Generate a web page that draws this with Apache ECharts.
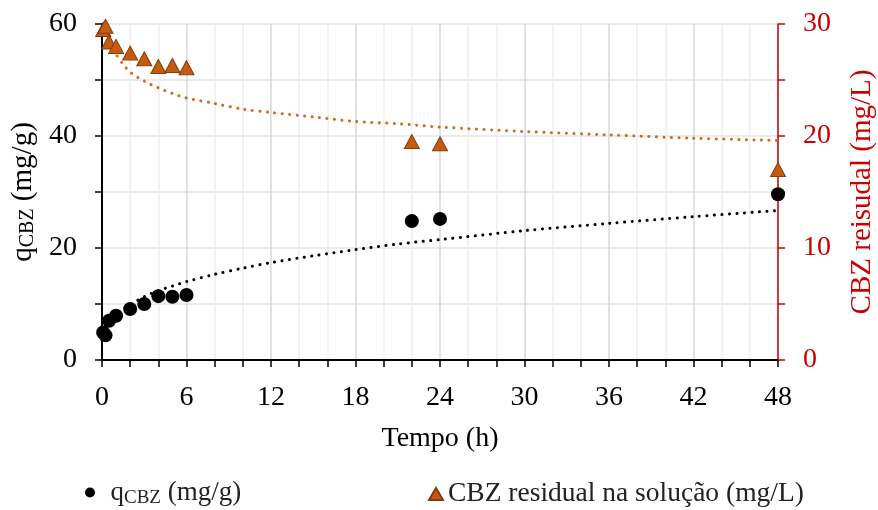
<!DOCTYPE html>
<html>
<head>
<meta charset="utf-8">
<script src="https://cdn.jsdelivr.net/npm/echarts@6/dist/echarts.min.js"></script>
<style>
  html, body { margin: 0; padding: 0; background: #fff; }
  #chart { width: 878px; height: 510px; }
</style>
</head>
<body>
<div id="chart"></div>
<script>
// Sampling times (h)
const tempo = [0.083, 0.25, 0.5, 1, 2, 3, 4, 5, 6, 22, 24, 48];
// Adsorbed amount q_CBZ (mg/g), left axis
const qCBZ = [4.9, 4.4, 7.0, 7.9, 9.1, 10.0, 11.4, 11.3, 11.6, 24.8, 25.2, 29.6];
// Residual CBZ in solution (mg/L), right axis
const residual = [29.5, 29.8, 28.4, 28.0, 27.4, 26.9, 26.2, 26.3, 26.1, 19.5, 19.3, 17.0];

// Trend curves (dotted), sampled along the time axis
const trendTempo = [0.5, 0.75, 1, 1.5, 2, 3, 4, 5, 6, 8, 10, 12, 15, 18, 21, 24, 30, 36, 42, 48];
const qTrend = [6.5, 7.35, 8.0, 9.1, 9.9, 11.3, 12.4, 13.2, 14.0, 15.3, 16.4, 17.4, 18.6, 19.7, 20.7, 21.5, 23.1, 24.4, 25.6, 26.7];
const residualTrend = [29.0, 28.0, 27.3, 26.4, 25.7, 24.9, 24.3, 23.8, 23.4, 22.9, 22.4, 22.1, 21.7, 21.3, 21.1, 20.8, 20.4, 20.1, 19.8, 19.6];

// Axis ranges and tick steps
const xMax = 48, xStep = 6;
const qMax = 60, qStep = 20;
const rMax = 30, rStep = 10;

const FONT = "'Liberation Serif', 'Times New Roman', serif";
const RED = '#cc0000';
const ORANGE_FILL = '#c55a11';
const ORANGE_EDGE = '#843c0c';
const ORANGE_TREND = '#d2691e';

const pairs = (xs, ys) => xs.map((x, i) => [x, ys[i]]);

const chart = echarts.init(document.getElementById('chart'), null, { renderer: 'canvas' });

const dotted = (color) => ({
  color: color,
  width: 3,
  type: [0.1, 7.4],
  cap: 'round'
});

chart.setOption({
  animation: false,
  backgroundColor: '#ffffff',
  textStyle: { fontFamily: FONT },
  grid: { left: 102, right: 100, top: 24, bottom: 150, containLabel: false, outerBoundsMode: 'none' },
  xAxis: {
    type: 'value',
    min: 0,
    max: xMax,
    interval: xStep,
    name: 'Tempo (h)',
    nameLocation: 'middle',
    nameGap: 65,
    nameTextStyle: { fontFamily: FONT, fontSize: 28, color: '#000' },
    axisLine: { show: true, onZero: false, lineStyle: { color: '#000', width: 2 } },
    axisTick: { show: true, inside: false, length: 7, lineStyle: { color: '#000', width: 1.5 } },
    minorTick: { show: true, splitNumber: 3, length: 7, lineStyle: { color: '#000', width: 1.5 } },
    axisLabel: { fontFamily: FONT, fontSize: 28, color: '#000', margin: 24 },
    splitLine: { show: true, lineStyle: { color: '#d9d9d9', width: 1.5 } },
    minorSplitLine: { show: true, lineStyle: { color: '#eeeeee', width: 1.5 } }
  },
  yAxis: [
    {
      type: 'value',
      position: 'left',
      min: 0,
      max: qMax,
      interval: qStep,
      name: '{q|q}{sub|CBZ}{q| (mg/g)}',
      nameLocation: 'middle',
      nameRotate: 90,
      nameGap: 62,
      nameTextStyle: {
        fontFamily: FONT,
        color: '#000',
        rich: {
          q: { fontFamily: FONT, fontSize: 29, color: '#000', lineHeight: 30 },
          sub: { fontFamily: FONT, fontSize: 20, color: '#000', lineHeight: 16, verticalAlign: 'bottom' }
        }
      },
      axisLine: { show: true, onZero: false, lineStyle: { color: '#000', width: 2 } },
      axisTick: { show: true, inside: false, length: 7, lineStyle: { color: '#000', width: 1.5 } },
      minorTick: { show: true, splitNumber: 2, length: 7, lineStyle: { color: '#000', width: 1.5 } },
      axisLabel: { fontFamily: FONT, fontSize: 28, color: '#000', margin: 25 },
      splitLine: { show: true, lineStyle: { color: '#e4e4e4', width: 1.5 } },
      minorSplitLine: { show: true, lineStyle: { color: '#e4e4e4', width: 1.5 } }
    },
    {
      type: 'value',
      position: 'right',
      min: 0,
      max: rMax,
      interval: rStep,
      name: 'CBZ reisudal (mg/L)',
      nameLocation: 'middle',
      nameRotate: 90,
      nameGap: 70,
      nameTextStyle: { fontFamily: FONT, fontSize: 29, color: RED },
      axisLine: { show: true, onZero: false, lineStyle: { color: RED, width: 1.5 } },
      axisTick: { show: true, inside: false, length: 7, lineStyle: { color: RED, width: 1.5 } },
      minorTick: { show: true, splitNumber: 2, length: 7, lineStyle: { color: RED, width: 1.5 } },
      axisLabel: { fontFamily: FONT, fontSize: 28, color: RED, margin: 25 },
      splitLine: { show: false },
      minorSplitLine: { show: false }
    }
  ],
  legend: [
    {
      left: 85,
      top: 479,
      padding: 0,
      itemWidth: 31,
      itemHeight: 10,
      itemGap: 0,
      data: [{ name: 'qCBZ', icon: 'circle' }],
      formatter: () => '{a|q}{b|CBZ}{a| (mg/g)}',
      textStyle: {
        fontFamily: FONT,
        color: '#222',
        rich: {
          a: { fontFamily: FONT, fontSize: 27, color: '#222', lineHeight: 30 },
          b: { fontFamily: FONT, fontSize: 19, color: '#222', lineHeight: 15, verticalAlign: 'bottom' }
        }
      }
    },
    {
      left: 428,
      top: 479,
      padding: 0,
      itemWidth: 14,
      itemHeight: 12,
      data: [{ name: 'CBZ residual na solução (mg/L)', icon: 'triangle' }],
      textStyle: { fontFamily: FONT, fontSize: 27.5, color: '#222', lineHeight: 30 }
    }
  ],
  series: [
    {
      name: 'q trend',
      type: 'line',
      xAxisIndex: 0,
      yAxisIndex: 0,
      data: pairs(trendTempo, qTrend),
      smooth: 0.3,
      showSymbol: false,
      symbol: 'none',
      silent: true,
      z: 2,
      lineStyle: dotted('#000000')
    },
    {
      name: 'residual trend',
      type: 'line',
      xAxisIndex: 0,
      yAxisIndex: 1,
      data: pairs(trendTempo, residualTrend),
      smooth: 0.3,
      showSymbol: false,
      symbol: 'none',
      silent: true,
      z: 2,
      lineStyle: dotted(ORANGE_TREND)
    },
    {
      name: 'qCBZ',
      type: 'scatter',
      xAxisIndex: 0,
      yAxisIndex: 0,
      data: pairs(tempo, qCBZ),
      symbol: 'circle',
      symbolSize: 14,
      z: 4,
      itemStyle: { color: '#000000', opacity: 1 }
    },
    {
      name: 'CBZ residual na solução (mg/L)',
      type: 'scatter',
      xAxisIndex: 0,
      yAxisIndex: 1,
      data: pairs(tempo, residual),
      symbol: 'triangle',
      symbolSize: [15, 14],
      z: 4,
      itemStyle: { color: ORANGE_FILL, borderColor: ORANGE_EDGE, borderWidth: 1, opacity: 1 }
    }
  ]
});
</script>
</body>
</html>
